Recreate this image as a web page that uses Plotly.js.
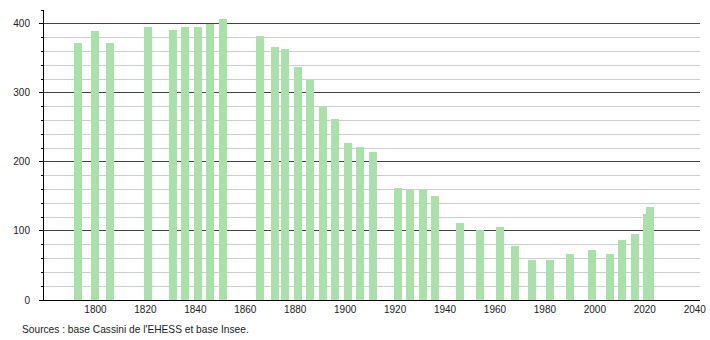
<!DOCTYPE html>
<html>
<head>
<meta charset="utf-8">
<script src="https://cdn.plot.ly/plotly-3.0.1.min.js"></script>
<style>html,body{margin:0;padding:0;background:#fff;}#chart{width:710px;height:340px;}</style>
</head>
<body>
<div id="chart"></div>
<script>
const years = [1793, 1800, 1806, 1821, 1831, 1836, 1841, 1846, 1851, 1866, 1872, 1876, 1881, 1886, 1891, 1896, 1901, 1906, 1911, 1921, 1926, 1931, 1936, 1946, 1954, 1962, 1968, 1975, 1982, 1990, 1999, 2006, 2011, 2016, 2021, 2022];
const population = [372, 389, 372, 396, 391, 396, 395, 400, 407, 383, 367, 363, 338, 318, 280, 262, 227, 221, 214, 162, 159, 160, 151, 111, 102, 106, 78, 58, 58, 66, 73, 66, 87, 95, 124, 134];
const xTickYears = [1800, 1820, 1840, 1860, 1880, 1900, 1920, 1940, 1960, 1980, 2000, 2020, 2040];
const sourceText = "Sources : base Cassini de l'EHESS et base Insee.";

const trace = {
  type: 'bar',
  x: years,
  y: population,
  width: 3.2,
  marker: {color: 'rgb(170,225,170)', line: {width: 0}},
  hoverinfo: 'x+y'
};

const layout = {
  width: 710,
  height: 340,
  margin: {l: 44, r: 10, t: 10, b: 40},
  paper_bgcolor: '#fff',
  plot_bgcolor: '#fff',
  showlegend: false,
  font: {family: 'Liberation Sans, Arial, sans-serif', size: 10, color: '#222'},
  bargap: 0,
  xaxis: {
    range: [1779.4, 2042.1],
    tickmode: 'array',
    tickvals: xTickYears,
    ticktext: xTickYears.map(String),
    ticks: '',
    showgrid: false,
    zeroline: false,
    showline: true,
    linecolor: '#000',
    linewidth: 1,
    tickfont: {size: 10, color: '#222'}
  },
  yaxis: {
    range: [0, 420],
    tickmode: 'linear',
    tick0: 0,
    dtick: 100,
    ticks: 'outside',
    ticklen: 4,
    tickcolor: '#000',
    ticklabelstandoff: 7,
    showgrid: true,
    gridcolor: '#444',
    gridwidth: 1,
    zeroline: false,
    showline: true,
    linecolor: '#000',
    linewidth: 1,
    tickfont: {size: 10, color: '#222'},
    minor: {
      dtick: 20,
      showgrid: true,
      gridcolor: '#cccccc',
      gridwidth: 1,
      ticks: 'outside',
      ticklen: 2,
      tickcolor: '#000'
    }
  },
  annotations: [{
    text: sourceText,
    xref: 'paper', yref: 'paper',
    x: -24/656, y: -29/290,
    xanchor: 'left', yanchor: 'middle',
    showarrow: false,
    font: {size: 10.2, color: '#222'}
  }]
};

Plotly.newPlot('chart', [trace], layout, {displayModeBar: false, staticPlot: true});
</script>
</body>
</html>
